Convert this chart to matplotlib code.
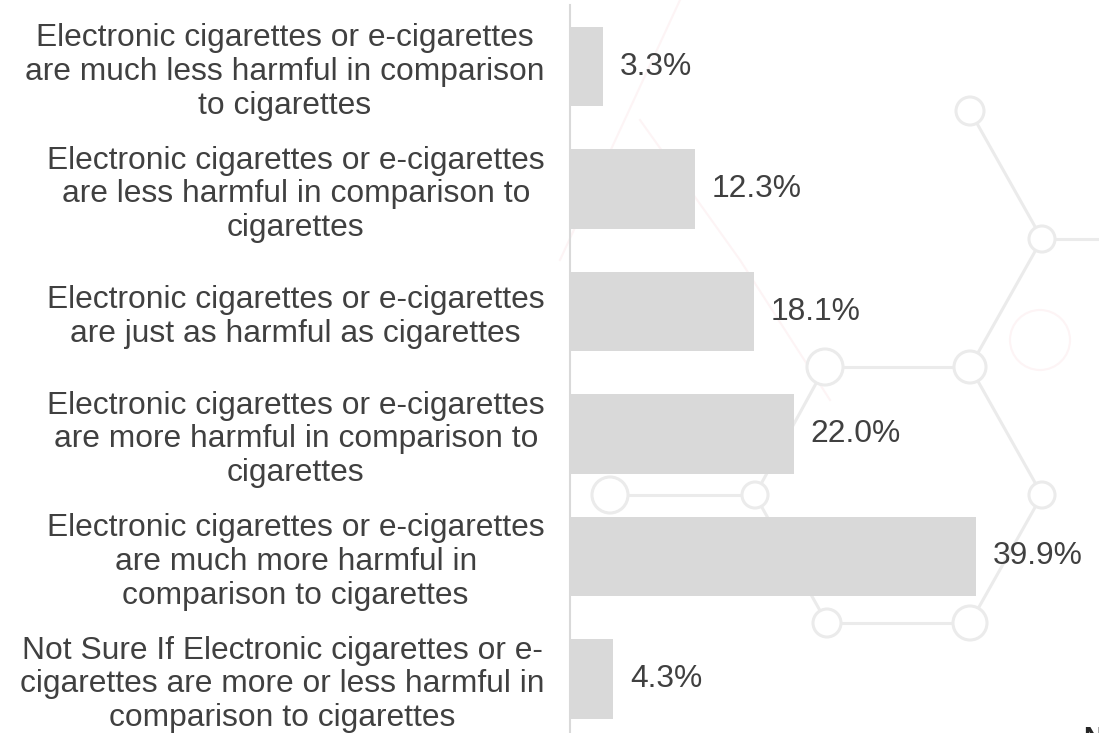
import matplotlib
matplotlib.use("Agg")
import matplotlib.pyplot as plt
from matplotlib.patches import Circle

categories = [
    "Electronic cigarettes or e-cigarettes\nare much less harmful in comparison\nto cigarettes",
    "Electronic cigarettes or e-cigarettes\nare less harmful in comparison to\ncigarettes",
    "Electronic cigarettes or e-cigarettes\nare just as harmful as cigarettes",
    "Electronic cigarettes or e-cigarettes\nare more harmful in comparison to\ncigarettes",
    "Electronic cigarettes or e-cigarettes\nare much more harmful in\ncomparison to cigarettes",
    "Not Sure If Electronic cigarettes or e-\ncigarettes are more or less harmful in\ncomparison to cigarettes",
]
values = [3.3, 12.3, 18.1, 22.0, 39.9, 4.3]
value_labels = ["3.3%", "12.3%", "18.1%", "22.0%", "39.9%", "4.3%"]

W, H = 1099, 733
plt.rcParams['font.family'] = ['Liberation Sans', 'DejaVu Sans']
fig = plt.figure(figsize=(W / 100, H / 100), dpi=100)
fig.patch.set_facecolor('white')

# decorative watermark (background)
bg = fig.add_axes([0, 0, 1, 1], zorder=0)
bg.set_xlim(0, W)
bg.set_ylim(H, 0)
bg.axis('off')
gcol = '#ebebeb'
nodes = {
    'a': (825, 367, 18), 'b': (970, 367, 16), 'c': (1042, 495, 13),
    'd': (970, 623, 17), 'e': (827, 623, 14), 'f': (755, 495, 13),
    'g': (610, 495, 18), 'h': (970, 111, 14), 'i': (1042, 239, 13),
}
edges = [('a', 'b'), ('b', 'c'), ('c', 'd'), ('d', 'e'), ('e', 'f'), ('f', 'a'),
         ('f', 'g'), ('h', 'i'), ('i', 'b')]
for p, q in edges:
    x1, y1, _ = nodes[p]
    x2, y2, _ = nodes[q]
    bg.plot([x1, x2], [y1, y2], color=gcol, lw=2.2, solid_capstyle='butt', zorder=1)
bg.plot([1042, 1099], [239, 239], color=gcol, lw=2.2, zorder=1)
for x, y, r in nodes.values():
    bg.add_patch(Circle((x, y), r, facecolor='white', edgecolor=gcol, lw=2.2, zorder=2))
pcol = '#fdf4f5'
bg.plot([680, 560], [0, 260], color=pcol, lw=1.5, zorder=0.5)
bg.plot([640, 740, 830], [120, 260, 400], color=pcol, lw=1.5, zorder=0.5)
bg.add_patch(Circle((1040, 340), 30, facecolor='none', edgecolor=pcol, lw=1.5, zorder=0.5))

# main axes
left_px, top_px = 569.5, 5
ax = fig.add_axes([left_px / W, 0, 1 - left_px / W, (H - top_px) / H], zorder=1)
ax.patch.set_alpha(0)
ypos = list(range(len(values)))
ax.barh(ypos, values, height=0.645, color='#d9d9d9', zorder=2)
px_per_unit = 10.19
ax.set_xlim(0, (W - left_px) / px_per_unit)
c0, step = 66.5, 122.5
ax.set_ylim((H - c0) / step, (top_px - c0) / step)

fs = 22.9
for y, v, lab in zip(ypos, values, value_labels):
    ax.annotate(lab, (v, y), xytext=(12, 0), textcoords='offset points',
                ha='left', va='center', fontsize=fs, color='#404040')

ax.set_yticks(ypos)
ax.set_yticklabels(categories, fontsize=fs, color='#404040', multialignment='center',
                   linespacing=1.17)
ax.tick_params(axis='y', length=0, pad=18)
ax.set_xticks([])
for s in ['top', 'right', 'bottom']:
    ax.spines[s].set_visible(False)
ax.spines['left'].set_color('#d9d9d9')
ax.spines['left'].set_linewidth(1.5)

fig.text(1083 / W, 1 - 726 / H, "N", ha='left', va='top', fontsize=20,
         fontweight='bold', color='#262626')

fig.savefig('out.png', dpi=100, facecolor='white')
